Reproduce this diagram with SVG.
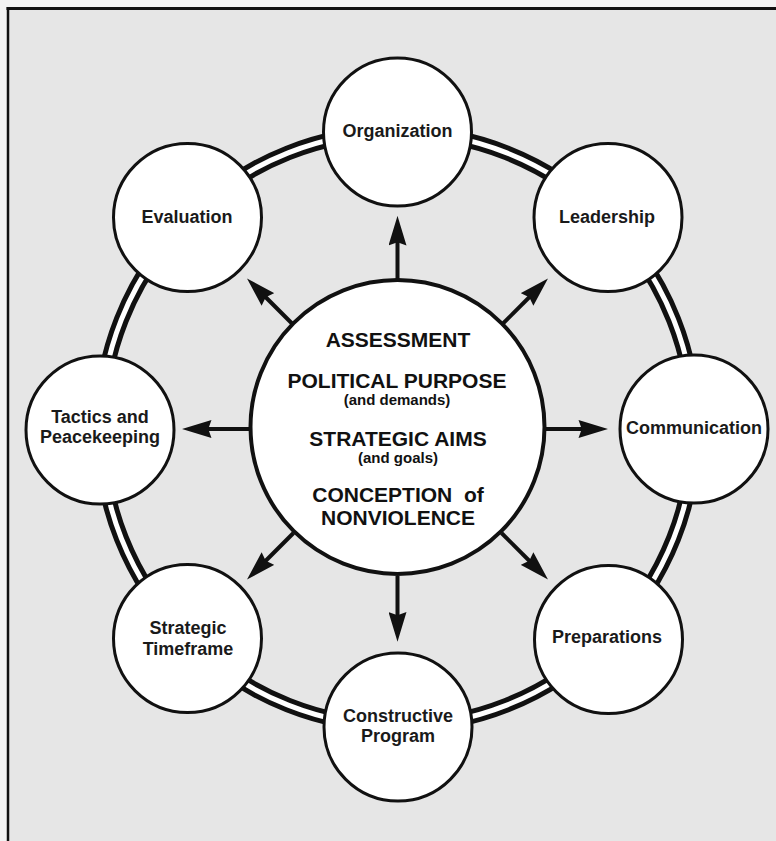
<svg xmlns="http://www.w3.org/2000/svg" width="776" height="841" viewBox="0 0 776 841">
  <style>
    .node { fill: #ffffff; stroke: #111111; stroke-width: 3; }
    .hub { fill: #ffffff; stroke: #111111; stroke-width: 4; }
    .lbl { font-family: "Liberation Sans", Arial, Helvetica, sans-serif; font-weight: bold; font-size: 18px; fill: #1a1a1a; text-anchor: middle; }
    .big { font-family: "Liberation Sans", Arial, Helvetica, sans-serif; font-weight: bold; font-size: 21px; fill: #111111; text-anchor: middle; white-space: pre; }
    .small { font-family: "Liberation Sans", Arial, Helvetica, sans-serif; font-weight: bold; font-size: 15px; fill: #111111; text-anchor: middle; }
    .arrow { stroke: #111111; stroke-width: 4; fill: none; marker-end: url(#head); }
  </style>
  <defs>
    <marker id="head" markerUnits="userSpaceOnUse" markerWidth="30" markerHeight="18" viewBox="0 0 28 17" refX="8" refY="8.5" orient="auto">
      <path d="M0,0 L28,8.5 L0,17 L3,8.5 Z" fill="#111111"/>
    </marker>
  </defs>

  <!-- background and frame -->
  <rect x="0" y="0" width="776" height="841" fill="#f3f3f3"/>
  <rect x="8" y="8" width="768" height="833" fill="#e6e6e6"/>
  <line x1="6.5" y1="8.5" x2="776" y2="8.5" stroke="#111111" stroke-width="3"/>
  <line x1="8" y1="7" x2="8" y2="841" stroke="#111111" stroke-width="2.5"/>

  <!-- outer double ring -->
  <g id="ring">
    <circle cx="397.5" cy="429" r="297" fill="none" stroke="#111111" stroke-width="15"/>
    <circle cx="397.5" cy="429" r="297" fill="none" stroke="#ffffff" stroke-width="5"/>
  </g>

  <!-- connectors -->
  <g id="connectors">
    <line class="arrow" x1="397.5" y1="282" x2="397.5" y2="237"/>
    <line class="arrow" x1="397.5" y1="576" x2="397.5" y2="620.5"/>
    <line class="arrow" x1="544.5" y1="429" x2="587" y2="429"/>
    <line class="arrow" x1="250.5" y1="429" x2="203" y2="429"/>
    <line class="arrow" x1="293.5" y1="325" x2="262" y2="293.5"/>
    <line class="arrow" x1="501.5" y1="325" x2="533" y2="293.5"/>
    <line class="arrow" x1="501.5" y1="533" x2="533" y2="564.5"/>
    <line class="arrow" x1="293.5" y1="533" x2="262" y2="564.5"/>
  </g>

  <!-- central hub -->
  <g id="hub">
    <circle class="hub" cx="397.5" cy="427" r="147"/>
    <text class="big" x="398" y="347">ASSESSMENT</text>
    <text class="big" x="397" y="388">POLITICAL PURPOSE</text>
    <text class="small" x="397" y="405">(and demands)</text>
    <text class="big" x="398" y="446">STRATEGIC AIMS</text>
    <text class="small" x="398" y="463">(and goals)</text>
    <text class="big" x="398" y="502">CONCEPTION  of</text>
    <text class="big" x="398" y="525">NONVIOLENCE</text>
  </g>

  <g id="organization">
    <circle class="node" cx="397.5" cy="132" r="74"/>
    <text class="lbl" x="397.5" y="137">Organization</text>
  </g>
  <g id="leadership">
    <circle class="node" cx="608" cy="217.5" r="74"/>
    <text class="lbl" x="607" y="223">Leadership</text>
  </g>
  <g id="communication">
    <circle class="node" cx="694" cy="429" r="74"/>
    <text class="lbl" x="694" y="434">Communication</text>
  </g>
  <g id="preparations">
    <circle class="node" cx="608.5" cy="639.5" r="74"/>
    <text class="lbl" x="607" y="643">Preparations</text>
  </g>
  <g id="constructive-program">
    <circle class="node" cx="398" cy="727" r="74"/>
    <text class="lbl" x="398" y="722">Constructive</text>
    <text class="lbl" x="398" y="742">Program</text>
  </g>
  <g id="strategic-timeframe">
    <circle class="node" cx="187.5" cy="638.5" r="74"/>
    <text class="lbl" x="188" y="634">Strategic</text>
    <text class="lbl" x="188" y="655">Timeframe</text>
  </g>
  <g id="tactics-peacekeeping">
    <circle class="node" cx="100" cy="430" r="74"/>
    <text class="lbl" x="100" y="423">Tactics and</text>
    <text class="lbl" x="100" y="443">Peacekeeping</text>
  </g>
  <g id="evaluation">
    <circle class="node" cx="187.5" cy="217.5" r="74"/>
    <text class="lbl" x="187" y="223">Evaluation</text>
  </g>
</svg>
